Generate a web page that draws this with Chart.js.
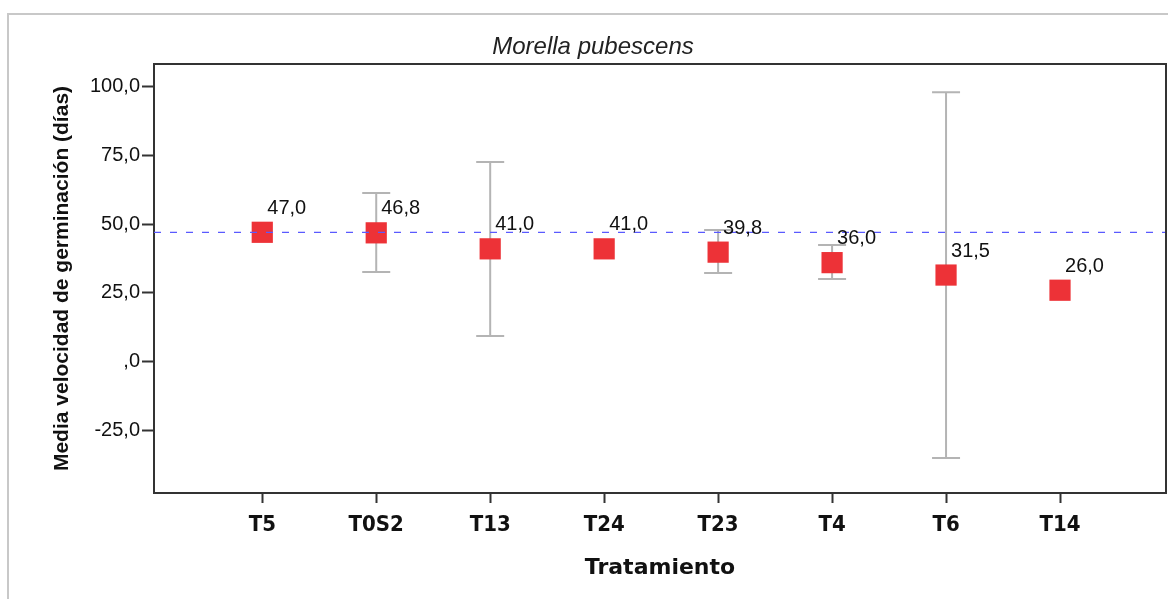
<!DOCTYPE html>
<html>
<head>
<meta charset="utf-8">
<script src="https://cdn.jsdelivr.net/npm/chart.js@4/dist/chart.umd.min.js"></script>
<style>
  html, body { margin: 0; padding: 0; background: #fff; }
  #wrap { width: 1168px; height: 599px; }
</style>
</head>
<body>
<div id="wrap"><canvas id="chart" width="1168" height="599"></canvas></div>
<script>
const categories = ['T5', 'T0S2', 'T13', 'T24', 'T23', 'T4', 'T6', 'T14'];
const means = [47.0, 46.8, 41.0, 41.0, 39.8, 36.0, 31.5, 26.0];
const lowerBounds = [null, 32.6, 9.4, null, 32.2, 30.1, -34.8, null];
const upperBounds = [null, 61.2, 72.5, null, 47.8, 42.4, 97.8, null];
const referenceValue = 47.0;
const yTickValues = [100, 75, 50, 25, 0, -25];
const yTickLabels = ['100,0', '75,0', '50,0', '25,0', ',0', '-25,0'];

const chartTitle = 'Morella pubescens';
const xTitle = 'Tratamiento';
const yTitle = 'Media velocidad de germinación (días)';

const fmt = v => v.toFixed(1).replace('.', ',');

(function () {
    const frameColor = '#333333';

    // outer panel frame, plot frame top/right edges and the chart title
    const framePlugin = {
        id: 'frame',
        beforeDraw(chart) {
            const ctx = chart.ctx;
            ctx.save();
            ctx.strokeStyle = '#c8c8c8';
            ctx.lineWidth = 2;
            ctx.beginPath();
            ctx.moveTo(8, chart.height);
            ctx.lineTo(8, 14);
            ctx.lineTo(chart.width, 14);
            ctx.stroke();

            ctx.fillStyle = '#222';
            ctx.font = 'italic 24px "Liberation Sans", Arial, sans-serif';
            ctx.textAlign = 'center';
            ctx.textBaseline = 'middle';
            ctx.fillText(chartTitle, 593, 47);
            ctx.restore();
        },
        afterDraw(chart) {
            const a = chart.chartArea;
            const ctx = chart.ctx;
            ctx.save();
            ctx.strokeStyle = frameColor;
            ctx.lineWidth = 2;
            ctx.beginPath();
            ctx.moveTo(a.left, a.top);
            ctx.lineTo(a.right, a.top);
            ctx.lineTo(a.right, a.bottom);
            ctx.stroke();
            ctx.restore();
        }
    };

    // error bars behind the markers, reference line and labels on top
    const errorBarPlugin = {
        id: 'errorBars',
        beforeDatasetsDraw(chart) {
            const { ctx, scales: { x, y } } = chart;
            ctx.save();
            ctx.strokeStyle = '#b4b4b4';
            ctx.lineWidth = 2;
            categories.forEach((c, i) => {
                if (lowerBounds[i] == null) return;
                const px = x.getPixelForValue(i);
                const top = y.getPixelForValue(upperBounds[i]);
                const bot = y.getPixelForValue(lowerBounds[i]);
                ctx.beginPath();
                ctx.moveTo(px, top);
                ctx.lineTo(px, bot);
                ctx.moveTo(px - 14, top);
                ctx.lineTo(px + 14, top);
                ctx.moveTo(px - 14, bot);
                ctx.lineTo(px + 14, bot);
                ctx.stroke();
            });
            ctx.restore();
        },
        afterDatasetsDraw(chart) {
            const { ctx, chartArea, scales: { x, y } } = chart;
            ctx.save();
            const ry = y.getPixelForValue(referenceValue);
            ctx.strokeStyle = '#5a5aff';
            ctx.lineWidth = 1.3;
            ctx.setLineDash([7, 9]);
            ctx.beginPath();
            ctx.moveTo(chartArea.left, ry);
            ctx.lineTo(chartArea.right, ry);
            ctx.stroke();
            ctx.setLineDash([]);

            ctx.fillStyle = '#111';
            ctx.font = '20px "Liberation Sans", Arial, sans-serif';
            ctx.textAlign = 'left';
            ctx.textBaseline = 'middle';
            means.forEach((m, i) => {
                const px = x.getPixelForValue(i);
                const py = y.getPixelForValue(m);
                ctx.fillText(fmt(m), px + 5, py - 24);
            });
            ctx.restore();
        }
    };

    const canvas = document.getElementById('chart');
    new Chart(canvas.getContext('2d'), {
        type: 'scatter',
        data: {
            datasets: [{
                data: means.map((m, i) => ({ x: i, y: m })),
                backgroundColor: '#ed3237',
                borderWidth: 0,
                pointStyle: 'rect',
                pointRadius: 15,
                pointHoverRadius: 15
            }]
        },
        options: {
            responsive: false,
            animation: false,
            events: [],
            layout: { autoPadding: false, padding: { top: 64, right: 2, bottom: 0, left: 0 } },
            plugins: {
                legend: { display: false },
                tooltip: { enabled: false }
            },
            scales: {
                x: {
                    type: 'linear',
                    min: -0.95,
                    max: 7.93,
                    afterFit: s => { s.height = 106; s.paddingLeft = 0; s.paddingRight = 0; },
                    afterBuildTicks: s => { s.ticks = categories.map((c, i) => ({ value: i })); },
                    grid: {
                        drawOnChartArea: false,
                        drawTicks: true,
                        tickLength: 10,
                        tickWidth: 2,
                        tickColor: frameColor
                    },
                    border: { display: true, color: frameColor, width: 2 },
                    ticks: {
                        autoSkip: false,
                        maxRotation: 0,
                        padding: 9,
                        color: '#111',
                        font: { family: '"Liberation Sans Narrow", "Arial Narrow", "DejaVu Sans Condensed", sans-serif', size: 22, weight: 'bold' },
                        callback: v => categories[v] ?? ''
                    },
                    title: {
                        display: true,
                        text: xTitle,
                        color: '#111',
                        padding: { top: 0, bottom: 18 },
                        font: { family: '"DejaVu Sans", Verdana, sans-serif', size: 22, weight: 'bold' }
                    }
                },
                y: {
                    min: -47.5,
                    max: 108,
                    afterFit: s => { s.width = 154; s.paddingTop = 0; s.paddingBottom = 0; },
                    afterBuildTicks: s => { s.ticks = yTickValues.map(v => ({ value: v })); },
                    grid: {
                        drawOnChartArea: false,
                        drawTicks: true,
                        tickLength: 12,
                        tickWidth: 2,
                        tickColor: frameColor
                    },
                    border: { display: true, color: frameColor, width: 2 },
                    ticks: {
                        padding: 2,
                        color: '#111',
                        font: { family: '"Liberation Sans", Arial, sans-serif', size: 20 },
                        callback: v => yTickLabels[yTickValues.indexOf(v)] ?? ''
                    },
                    title: {
                        display: true,
                        text: yTitle,
                        color: '#111',
                        padding: { top: 50, bottom: 0 },
                        font: { family: '"Liberation Sans", Arial, sans-serif', size: 21, weight: 'bold' }
                    }
                }
            }
        },
        plugins: [framePlugin, errorBarPlugin]
    });
})();
</script>
</body>
</html>
